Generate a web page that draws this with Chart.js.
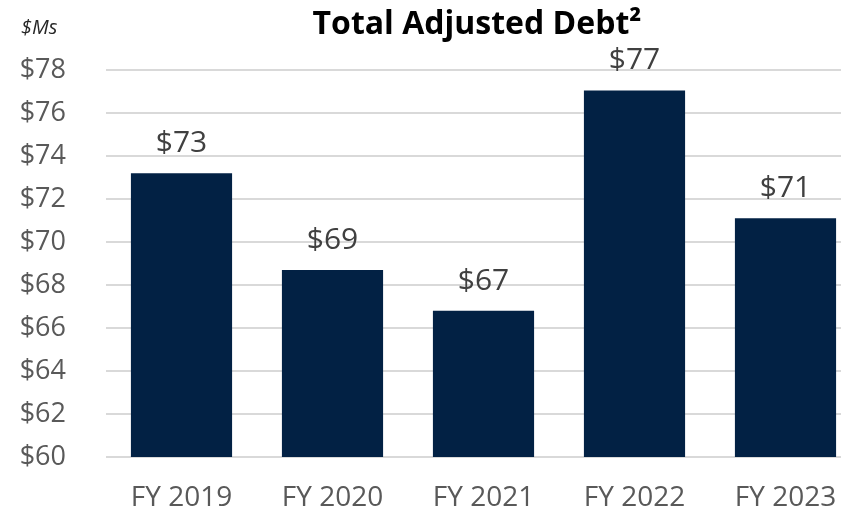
<!DOCTYPE html>
<html>
<head>
<meta charset="utf-8">
<script src="https://cdn.jsdelivr.net/npm/chart.js@4"></script>
<style>
  html, body { margin: 0; padding: 0; background: #ffffff; overflow: hidden; }
  #wrap { position: relative; width: 861px; height: 514px; }
</style>
</head>
<body>
<div id="wrap"><canvas id="debtChart"></canvas></div>
<script>
// data
var categories = ['FY 2019', 'FY 2020', 'FY 2021', 'FY 2022', 'FY 2023'];
var debtValues = [73.2, 68.7, 66.8, 77.05, 71.1];
var valueLabels = ['$73', '$69', '$67', '$77', '$71'];
var yTicks = [60, 62, 64, 66, 68, 70, 72, 74, 76, 78];

var FONT = '"Open Sans", "Noto Sans", sans-serif';

// title, unit label and value labels drawn on top of the chart
var annotations = {
    id: 'annotations',
    afterDatasetsDraw: function (chart) {
        var ctx = chart.ctx;
        ctx.save();
        ctx.fillStyle = '#000000';
        ctx.textAlign = 'center';
        ctx.textBaseline = 'alphabetic';
        ctx.font = 'bold 32px ' + FONT;
        ctx.fillText('Total Adjusted Debt\u00B2', 477, 34);

        ctx.textAlign = 'left';
        ctx.font = 'italic 20px ' + FONT;
        ctx.fillStyle = '#262626';
        ctx.fillText('$Ms', 21, 34);

        var meta = chart.getDatasetMeta(0);
        ctx.textAlign = 'center';
        ctx.textBaseline = 'alphabetic';
        ctx.font = '30px ' + FONT;
        ctx.fillStyle = '#404040';
        meta.data.forEach(function (bar, i) {
            ctx.fillText(valueLabels[i], bar.x, bar.y - 21);
        });
        ctx.restore();
    }
};

new Chart(document.getElementById('debtChart'), {
    type: 'bar',
    data: {
        labels: categories,
        datasets: [{
            data: debtValues,
            backgroundColor: '#022144',
            borderWidth: 0,
            categoryPercentage: 1.0,
            barPercentage: 0.67
        }]
    },
    options: {
        responsive: true,
        maintainAspectRatio: false,
        animation: false,
        layout: { padding: { top: 70, right: 0, bottom: 0, left: 0 } },
        plugins: {
            legend: { display: false },
            tooltip: { enabled: false }
        },
        scales: {
            x: {
                grid: { display: false, drawTicks: false },
                border: { display: false },
                ticks: {
                    color: '#595959',
                    font: { family: FONT, size: 28 },
                    padding: 24,
                    maxRotation: 0
                },
                afterFit: function (axis) { axis.height = 57; }
            },
            y: {
                min: 60,
                max: 78,
                afterBuildTicks: function (axis) {
                    axis.ticks = yTicks.map(function (v) { return { value: v }; });
                },
                grid: { color: '#d9d9d9', lineWidth: 2, drawTicks: false },
                border: { display: false },
                ticks: {
                    color: '#595959',
                    font: { family: FONT, size: 27 },
                    padding: 40,
                    callback: function (v) { return '$' + v; }
                },
                afterFit: function (axis) { axis.width = 106; }
            }
        }
    },
    plugins: [annotations]
});
</script>
</body>
</html>
